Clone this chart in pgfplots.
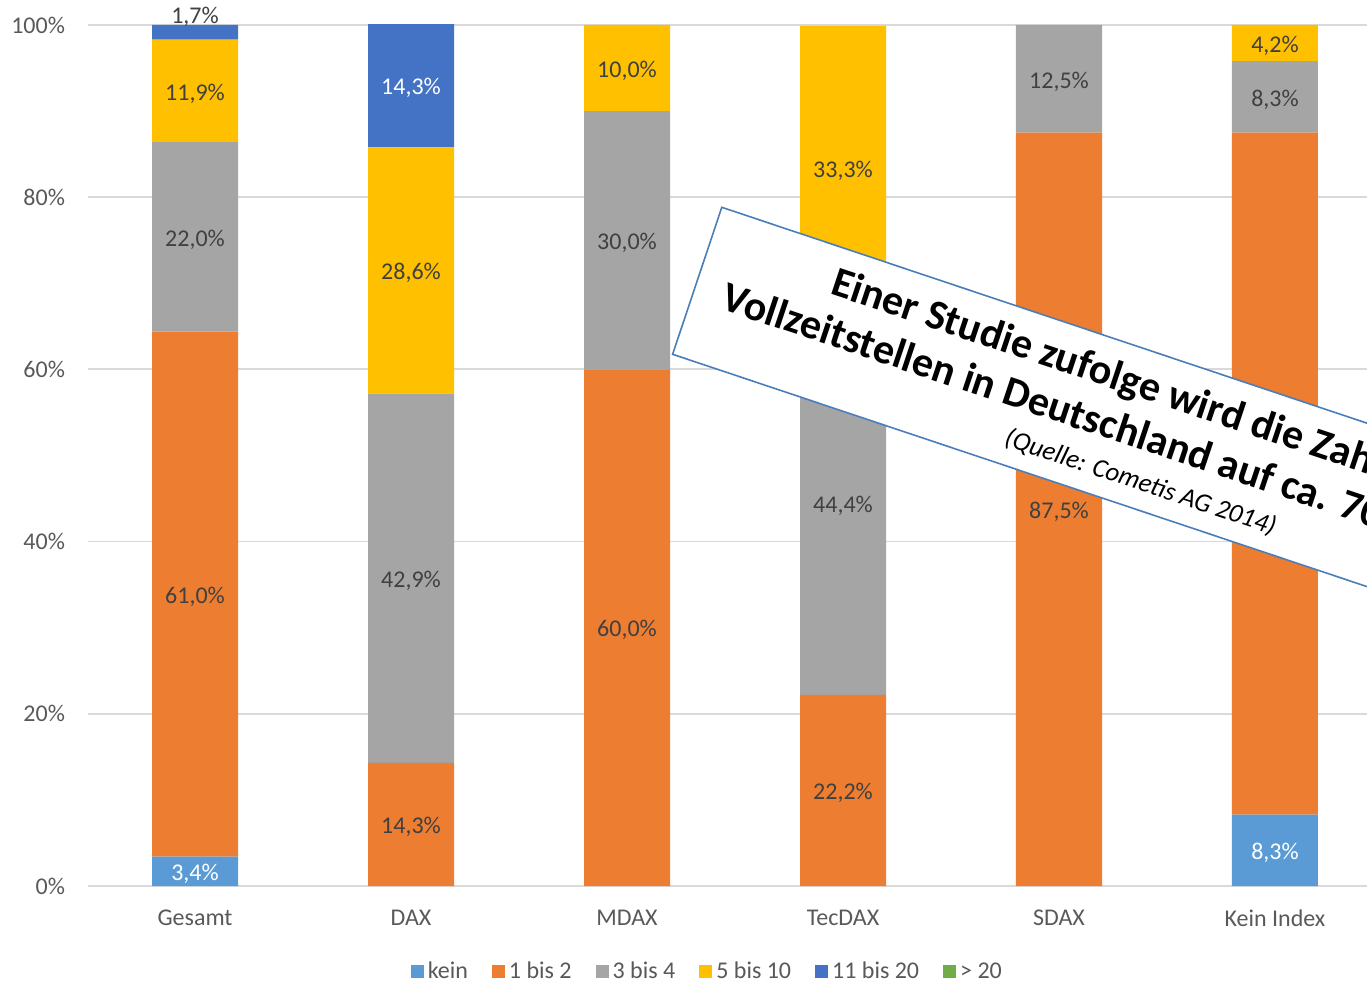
\documentclass[border=0pt]{standalone}
\usepackage{pgfplots}
\pgfplotsset{compat=1.18}
\usepackage{fontspec}
\setmainfont{Carlito}
\definecolor{ckein}{HTML}{5B9BD5}
\definecolor{ceins}{HTML}{ED7D31}
\definecolor{cdrei}{HTML}{A5A5A5}
\definecolor{cfuenf}{HTML}{FFC000}
\definecolor{celf}{HTML}{4472C4}
\definecolor{cgt}{HTML}{70AD47}
\definecolor{gridc}{HTML}{D9D9D9}
\definecolor{tickc}{HTML}{595959}
\definecolor{labc}{HTML}{404040}
\definecolor{boxc}{HTML}{4A7EBB}
\pgfplotsset{common/.style={at={(0,0)}, anchor=south west,
  scale only axis, width=639.5pt, height=430.5pt,
  xmin=-0.4954, xmax=5.426, ymin=0, ymax=100}}
\begin{document}
\begin{tikzpicture}
\begin{axis}[
  common,
  ybar stacked, bar width=43pt,
  xtick={0,...,5}, xticklabels={Gesamt,DAX,MDAX,TecDAX,SDAX,Kein Index},
  ytick={0,20,40,60,80,100}, yticklabels={0\%,20\%,40\%,60\%,80\%,100\%},
  ymajorgrids, grid style={draw=gridc, line width=0.9pt},
  axis line style={draw=none},
  major tick length=0pt,
  tick label style={font=\fontsize{12}{14}\selectfont, text=tickc},
  xticklabel style={yshift=-8.5pt},
  yticklabel style={xshift=-8pt},
  legend style={at={(0.485,-0.1)}, anchor=center, draw=none, legend columns=-1,
    inner ysep=0pt, nodes={inner ysep=0.5pt},
    font=\fontsize{12}{14}\selectfont, text=tickc,
    /tikz/every even column/.append style={column sep=10pt}},
  legend image code/.code={\fill[#1] (0pt,-2.8pt) rectangle (6.5pt,3.7pt);},
]
\addplot[fill=ckein, draw=none] coordinates {(0,3.4) (1,0) (2,0) (3,0) (4,0) (5,8.3)};
\addplot[fill=ceins, draw=none] coordinates {(0,61.0) (1,14.3) (2,60.0) (3,22.2) (4,87.5) (5,79.2)};
\addplot[fill=cdrei, draw=none] coordinates {(0,22.0) (1,42.9) (2,30.0) (3,44.4) (4,12.5) (5,8.3)};
\addplot[fill=cfuenf, draw=none] coordinates {(0,11.9) (1,28.6) (2,10.0) (3,33.3) (4,0) (5,4.2)};
\addplot[fill=celf, draw=none] coordinates {(0,1.7) (1,14.3) (2,0) (3,0) (4,0) (5,0)};
\addplot[fill=cgt, draw=none] coordinates {(0,0) (1,0) (2,0) (3,0) (4,0) (5,0)};
\legend{kein,1 bis 2,3 bis 4,5 bis 10,11 bis 20,> 20}
\end{axis}
\begin{axis}[common, hide axis, clip=false]
\addplot[only marks, mark=none, nodes near coords, point meta=explicit symbolic,
  every node near coord/.style={anchor=center, inner sep=0pt, yshift=-1.3pt, font=\fontsize{12}{14}\selectfont, text=labc}]
  coordinates {
  (0,33.9) [{61,0\%}] (0,75.4) [{22,0\%}] (0,92.35) [{11,9\%}] (0,101.2) [{1,7\%}]
  (1,7.15) [{14,3\%}] (1,35.75) [{42,9\%}] (1,71.5) [{28,6\%}]
  (2,30) [{60,0\%}] (2,75) [{30,0\%}] (2,95) [{10,0\%}]
  (3,11.1) [{22,2\%}] (3,44.4) [{44,4\%}] (3,83.35) [{33,3\%}]
  (4,43.75) [{87,5\%}] (4,93.75) [{12,5\%}]
  (5,47.9) [{79,2\%}] (5,91.65) [{8,3\%}] (5,97.9) [{4,2\%}]
  };
\addplot[only marks, mark=none, nodes near coords, point meta=explicit symbolic,
  every node near coord/.style={anchor=center, inner sep=0pt, yshift=-1.3pt, font=\fontsize{12}{14}\selectfont, text=white}]
  coordinates {(0,1.7) [{3,4\%}] (1,92.95) [{14,3\%}] (5,4.15) [{8,3\%}]};
\end{axis}
\pgfresetboundingbox
\useasboundingbox (-44pt,-47.5pt) rectangle (639.5pt,443pt);
\begin{scope}
\clip (-44pt,-47.5pt) rectangle (639.5pt,443pt);
\begin{scope}[shift={(316.9pt,339.35pt)}, rotate=-18.5]
\draw[boxc, line width=0.8pt, fill=white] (0,0) rectangle (800pt,-77.5pt);
\node[anchor=base west, rotate=-18.5, inner sep=0pt, font=\bfseries\fontsize{21}{25}\selectfont] at (64.5pt,-24pt) {Einer Studie zufolge wird die Zahl der};
\node[anchor=base west, rotate=-18.5, inner sep=0pt, font=\bfseries\fontsize{21}{25}\selectfont] at (15pt,-48.5pt) {Vollzeitstellen in Deutschland auf ca. 70.000};
\node[anchor=base west, rotate=-18.5, inner sep=0pt, font=\itshape\fontsize{13.3}{16}\selectfont] at (171pt,-68pt) {(Quelle: Cometis AG 2014)};
\end{scope}
\end{scope}
\end{tikzpicture}
\end{document}
